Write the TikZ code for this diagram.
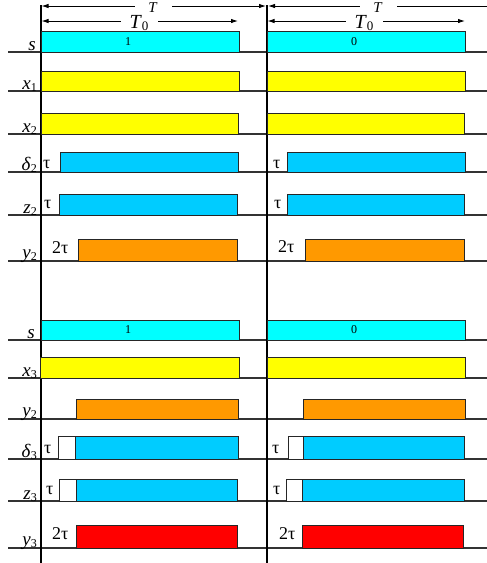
\documentclass[tikz,border=0pt]{standalone}
\usepackage{fontspec}
\setmainfont{Liberation Serif}
\usetikzlibrary{arrows.meta}
\definecolor{cyanS}{HTML}{00FFFF}
\definecolor{yelX}{HTML}{FFFF00}
\definecolor{blueD}{HTML}{00CCFF}
\definecolor{orgY}{HTML}{FF9900}
\definecolor{redY}{HTML}{FF0000}
\definecolor{lineG}{HTML}{333333}
\newcommand{\sig}[2]{\textit{#1}\raisebox{-0.3ex}{\fontsize{12}{12}\selectfont #2}}
\newcommand{\sigbar}[5]{\draw[barstyle,fill=#1] (#2,#3) rectangle (#4,#5);}
\begin{document}
\begin{tikzpicture}[x=1pt,y=-1pt,
  barstyle/.style={draw=black!85,line width=0.9pt},
  baseln/.style={draw=lineG,line width=1.1pt},
  vline/.style={draw=black,line width=1.2pt},
  varlab/.style={anchor=base east,inner sep=0pt,font=\fontsize{19}{19}\selectfont},
  taulab/.style={anchor=base west,inner sep=0pt,font=\fontsize{18}{18}\selectfont},
  binlab/.style={inner sep=0pt,font=\fontsize{12}{12}\selectfont},
  dimarrow/.style={draw=black,line width=0.9pt,{Latex[length=7pt,width=4.5pt]}-{Latex[length=7pt,width=4.5pt]}},
  dimlab/.style={fill=white,inner sep=0pt,minimum width=37pt,font=\fontsize{20}{20}\selectfont},
  toplab/.style={fill=white,inner sep=1pt,minimum width=37pt,font=\fontsize{15}{15}\selectfont}]
\clip (0,0) rectangle (487,563);
\useasboundingbox (0,0) rectangle (487,563);
\fill[white] (0,0) rectangle (487,563);

% baselines
\foreach \y in {52,91,134,172,215,261,340,378,419,459,501,548}
  \draw[baseln] (8,\y) -- (487,\y);
% vertical lines
\coordinate (vl0) at (41,5);
\coordinate (vl1) at (41,563);
\coordinate (vr0) at (267,5);
\coordinate (vr1) at (267,563);
\draw[vline] (vl0) -- (vl1);
\draw[vline] (vr0) -- (vr1);

% T arrows
\coordinate (ta) at (41.5,6);
\coordinate (tb) at (266,6);
\coordinate (tc) at (268,6);
\coordinate (td) at (494,6);
\draw[dimarrow] (ta) -- (tb);
\draw[dimarrow] (tc) -- (td);
\node[toplab,anchor=base] (TL) at (153,12) {\textit{T}};
\node[toplab,anchor=base] (TR) at (378,12) {\textit{T}};
% T0 arrows
\coordinate (t0a) at (41.5,21);
\coordinate (t0b) at (238,21);
\coordinate (t0c) at (267.5,21);
\coordinate (t0d) at (465,21);
\draw[dimarrow] (t0a) -- (t0b);
\draw[dimarrow] (t0c) -- (t0d);
\node[dimlab,anchor=base] (T0L) at (139,28) {\textit{T}\raisebox{-0.3ex}{\fontsize{13}{13}\selectfont 0}};
\node[dimlab,anchor=base] (T0R) at (364,28) {\textit{T}\raisebox{-0.3ex}{\fontsize{13}{13}\selectfont 0}};

% row 1: s
\sigbar{cyanS}{41}{31}{239}{52}
\sigbar{cyanS}{267}{31}{465}{52}
\node[binlab] (b1) at (128,42) {1};
\node[binlab] (b0) at (354,42) {0};
% row 2: x1
\sigbar{yelX}{41}{71}{239}{91}
\sigbar{yelX}{267}{71}{465}{91}
% row 3: x2
\sigbar{yelX}{41}{113}{238}{134}
\sigbar{yelX}{267}{113}{464}{134}
% row 4: delta2
\sigbar{blueD}{60}{152}{238}{172}
\sigbar{blueD}{287}{152}{465}{172}
% row 5: z2
\sigbar{blueD}{59.5}{194}{237}{215}
\sigbar{blueD}{287}{194}{464}{215}
% row 6: y2
\sigbar{orgY}{78}{239}{237}{261}
\sigbar{orgY}{305}{239}{464}{261}
% row 7: s
\sigbar{cyanS}{41}{320}{239}{340}
\sigbar{cyanS}{267}{320}{465}{340}
\node[binlab] (b1b) at (128,330) {1};
\node[binlab] (b0b) at (354,330) {0};
% row 8: x3
\sigbar{yelX}{40}{357}{239}{378}
\sigbar{yelX}{267}{357}{465}{378}
% row 9: y2
\sigbar{orgY}{76}{399}{238}{419}
\sigbar{orgY}{303}{399}{465}{419}
% row 10: delta3
\sigbar{white}{58}{436}{75}{459}
\sigbar{blueD}{75}{436}{238}{459}
\sigbar{white}{288}{436}{303}{459}
\sigbar{blueD}{303}{436}{464}{459}
% row 11: z3
\sigbar{white}{59.5}{479}{76.5}{501}
\sigbar{blueD}{76.5}{479}{237}{501}
\sigbar{white}{286}{479}{302.5}{501}
\sigbar{blueD}{302.5}{479}{464}{501}
% row 12: y3
\sigbar{redY}{76.5}{525}{237}{548}
\sigbar{redY}{302}{525}{463}{548}

% variable labels
\node[varlab] (ls1) at (36,50) {\textit{s}};
\node[varlab] (lx1) at (37,89) {\sig{x}{1}};
\node[varlab] (lx2) at (37,132) {\sig{x}{2}};
\node[varlab] (ld2) at (37,170) {\sig{δ}{2}};
\node[varlab] (lz2) at (37,213) {\sig{z}{2}};
\node[varlab] (ly2) at (37,258) {\sig{y}{2}};
\node[varlab] (ls2) at (35,338) {\textit{s}};
\node[varlab] (lx3) at (37,376) {\sig{x}{3}};
\node[varlab] (ly2b) at (37,416) {\sig{y}{2}};
\node[varlab] (ld3) at (37,457) {\sig{δ}{3}};
\node[varlab] (lz3) at (37,499) {\sig{z}{3}};
\node[varlab] (ly3) at (37,545) {\sig{y}{3}};

% tau labels
\node[taulab] (t1) at (43,168) {τ};
\node[taulab] (t2) at (273,168) {τ};
\node[taulab] (t3) at (44,208) {τ};
\node[taulab] (t4) at (274,208) {τ};
\node[taulab] (t5) at (52,253) {2τ};
\node[taulab] (t6) at (278,252) {2τ};
\node[taulab] (t7) at (44,453) {τ};
\node[taulab] (t8) at (272,453) {τ};
\node[taulab] (t9) at (46,494) {τ};
\node[taulab] (t10) at (273,494) {τ};
\node[taulab] (t11) at (52,539) {2τ};
\node[taulab] (t12) at (279,539) {2τ};
\end{tikzpicture}
\end{document}
